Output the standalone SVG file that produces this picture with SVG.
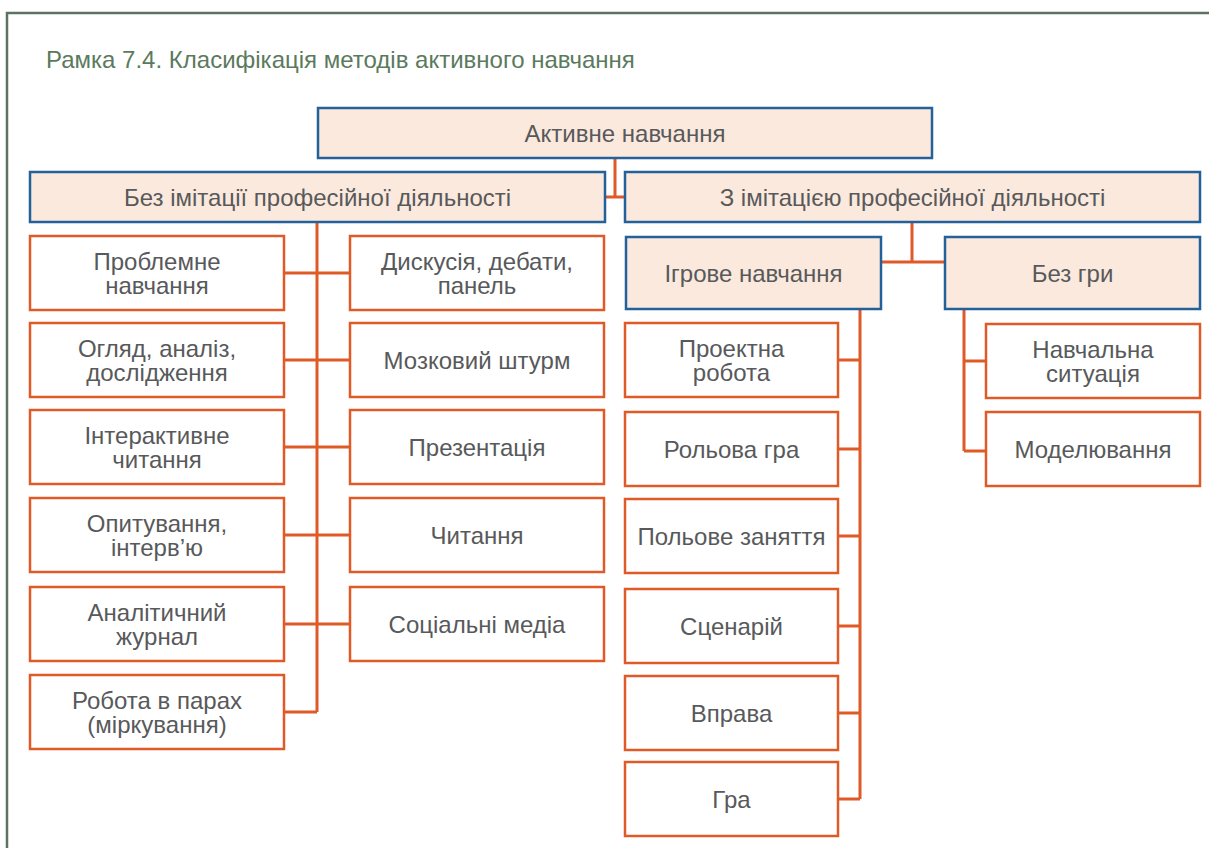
<svg xmlns="http://www.w3.org/2000/svg" width="1209" height="848" viewBox="0 0 1209 848">
<style>
text{font-family:"Liberation Sans",Arial,sans-serif;font-size:24px;fill:#58595b;text-anchor:middle}
.title{font-size:24px;fill:#5b7a5d;text-anchor:start}
.hdr{fill:#fbe9dd;stroke:#23619a;stroke-width:2.5}
.leaf{fill:#ffffff;stroke:#e05a28;stroke-width:2.5}
.conn{fill:none;stroke:#e05a28;stroke-width:3}
</style>
<rect width="1209" height="848" fill="#ffffff"/>
<path d="M7,848 V13 H1209" fill="none" stroke="#5d7260" stroke-width="2.5"/>
<text class="title" x="46" y="68">Рамка 7.4. Класифікація методів активного навчання</text>

<g id="connectors">
<path class="conn" d="M615,158 V197 M605,197 H625"/>
<path class="conn" d="M317,222 V712 M284,273 H350 M284,360 H350 M284,447 H350 M284,535 H350 M284,624 H350 M284,712 H317"/>
<path class="conn" d="M912,222 V262 M881,262 H945"/>
<path class="conn" d="M860,309 V799 M838,360 H860 M838,449 H860 M838,536 H860 M838,626 H860 M838,713 H860 M838,799 H860"/>
<path class="conn" d="M964,309 V451 M964,361 H986 M964,451 H986"/>
</g>

<g id="n-root"><rect class="hdr" x="318" y="108" width="614" height="50"/><text x="625" y="141.5">Активне навчання</text></g>
<g id="n-without"><rect class="hdr" x="30" y="172" width="575" height="50"/><text x="317.5" y="205.5">Без імітації професійної діяльності</text></g>
<g id="n-with"><rect class="hdr" x="625" y="172" width="575" height="50"/><text x="912.5" y="205.5">З імітацією професійної діяльності</text></g>
<g id="n-game"><rect class="hdr" x="626" y="237" width="255" height="72"/><text x="753.5" y="281.5">Ігрове навчання</text></g>
<g id="n-nogame"><rect class="hdr" x="945" y="237" width="255" height="72"/><text x="1072.5" y="281.5">Без гри</text></g>

<g id="n-a1"><rect class="leaf" x="30" y="236" width="254" height="74"/><text x="157" y="270">Проблемне</text><text x="157" y="293.5">навчання</text></g>
<g id="n-a2"><rect class="leaf" x="30" y="323" width="254" height="74"/><text x="157" y="357">Огляд, аналіз,</text><text x="157" y="380.5">дослідження</text></g>
<g id="n-a3"><rect class="leaf" x="30" y="410" width="254" height="74"/><text x="157" y="444">Інтерактивне</text><text x="157" y="467.5">читання</text></g>
<g id="n-a4"><rect class="leaf" x="30" y="498" width="254" height="74"/><text x="157" y="532">Опитування,</text><text x="157" y="555.5">інтерв’ю</text></g>
<g id="n-a5"><rect class="leaf" x="30" y="587" width="254" height="74"/><text x="157" y="621">Аналітичний</text><text x="157" y="644.5">журнал</text></g>
<g id="n-a6"><rect class="leaf" x="30" y="675" width="254" height="74"/><text x="157" y="709">Робота в парах</text><text x="157" y="732.5">(міркування)</text></g>

<g id="n-b1"><rect class="leaf" x="350" y="236" width="254" height="74"/><text x="477" y="270">Дискусія, дебати,</text><text x="477" y="293.5">панель</text></g>
<g id="n-b2"><rect class="leaf" x="350" y="323" width="254" height="74"/><text x="477" y="368.5">Мозковий штурм</text></g>
<g id="n-b3"><rect class="leaf" x="350" y="410" width="254" height="74"/><text x="477" y="456">Презентація</text></g>
<g id="n-b4"><rect class="leaf" x="350" y="498" width="254" height="74"/><text x="477" y="544">Читання</text></g>
<g id="n-b5"><rect class="leaf" x="350" y="587" width="254" height="74"/><text x="477" y="633">Соціальні медіа</text></g>

<g id="n-c1"><rect class="leaf" x="625" y="323" width="213" height="74"/><text x="731.5" y="357">Проектна</text><text x="731.5" y="380.5">робота</text></g>
<g id="n-c2"><rect class="leaf" x="625" y="412" width="213" height="74"/><text x="731.5" y="458">Рольова гра</text></g>
<g id="n-c3"><rect class="leaf" x="625" y="499" width="213" height="74"/><text x="731.5" y="545">Польове заняття</text></g>
<g id="n-c4"><rect class="leaf" x="625" y="589" width="213" height="74"/><text x="731.5" y="635">Сценарій</text></g>
<g id="n-c5"><rect class="leaf" x="625" y="676" width="213" height="74"/><text x="731.5" y="722">Вправа</text></g>
<g id="n-c6"><rect class="leaf" x="625" y="762" width="213" height="74"/><text x="731.5" y="808">Гра</text></g>

<g id="n-d1"><rect class="leaf" x="986" y="324" width="214" height="74"/><text x="1093" y="358">Навчальна</text><text x="1093" y="381.5">ситуація</text></g>
<g id="n-d2"><rect class="leaf" x="986" y="412" width="214" height="74"/><text x="1093" y="458">Моделювання</text></g>
</svg>
